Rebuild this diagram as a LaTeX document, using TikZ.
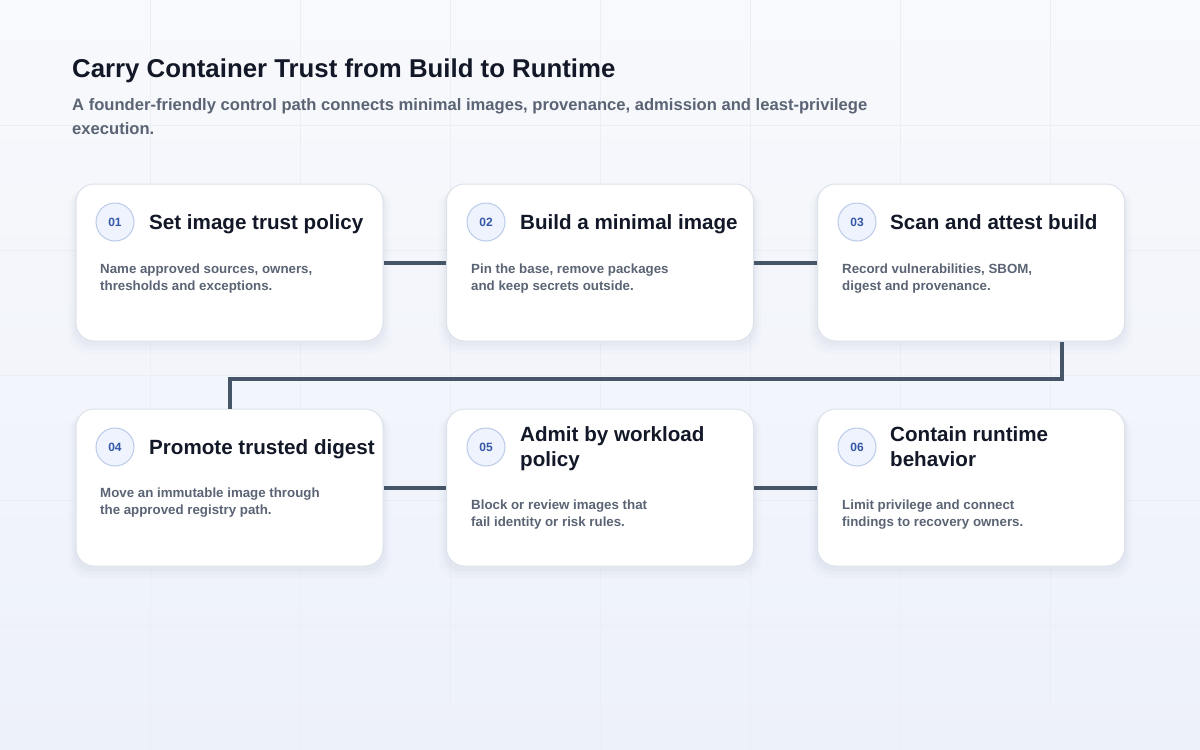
\documentclass[tikz,border=0pt]{standalone}
\usepackage{fontspec}
\setmainfont{Liberation Sans}
\usetikzlibrary{shadows}

\definecolor{bgtop}{HTML}{F8F9FC}
\definecolor{bgbot}{HTML}{EDF1FA}
\definecolor{gridcol}{HTML}{EBEEF5}
\definecolor{inkcol}{HTML}{121827}
\definecolor{mutedcol}{HTML}{5B6474}
\definecolor{linkcol}{HTML}{475569}
\definecolor{edgecol}{HTML}{DCE2EB}
\definecolor{dotfill}{HTML}{EEF3FD}
\definecolor{dotedge}{HTML}{BACBEA}
\definecolor{dotink}{HTML}{3557A8}
\definecolor{shadecol}{HTML}{8C9AB8}

\tikzset{
  card/.style={draw=edgecol, line width=1pt, fill=white, rounded corners=18pt,
    minimum width=307pt, minimum height=157pt,
    drop shadow={shadow xshift=0pt, shadow yshift=-8pt, shadow scale=1.05, fill=shadecol, opacity=0.03},
    drop shadow={shadow xshift=0pt, shadow yshift=-6pt, shadow scale=1.03, fill=shadecol, opacity=0.04},
    drop shadow={shadow xshift=0pt, shadow yshift=-4pt, shadow scale=1.015, fill=shadecol, opacity=0.05}},
  numdot/.style={circle, draw=dotedge, line width=1pt, fill=dotfill, minimum size=38pt, inner sep=0pt,
    text=dotink, font=\fontsize{12}{14}\selectfont\bfseries},
  cardtitle/.style={anchor=base west, inner sep=0pt, align=left, text=inkcol,
    font=\fontsize{20.6}{25}\selectfont\bfseries},
  cardbody/.style={anchor=north west, inner sep=0pt, align=left, text=mutedcol,
    font=\fontsize{13.3}{16.5}\selectfont\bfseries},
  link/.style={draw=linkcol, line width=4pt}
}

\begin{document}
\begin{tikzpicture}[x=1pt,y=1pt,yscale=-1,xscale=1]
    \useasboundingbox (0,0) rectangle (1200,750);
    % background
    \shade[top color=bgtop, bottom color=bgbot] (0,0) rectangle (1200,750);
    \draw[gridcol, line width=0.8pt] (150,0) -- (150,750) (300,0) -- (300,750) (450,0) -- (450,750)
      (600,0) -- (600,750) (750,0) -- (750,750) (900,0) -- (900,750) (1050,0) -- (1050,750);
    \draw[gridcol, line width=0.8pt] (0,125) -- (1200,125) (0,250) -- (1200,250) (0,375) -- (1200,375)
      (0,500) -- (1200,500) (0,625) -- (1200,625);
    % Text Node
    \node[anchor=base west, inner sep=0pt, text=inkcol, font=\fontsize{25.8}{30}\selectfont\bfseries] (head) at (72,77) {Carry Container Trust from Build to Runtime};
    % Text Node (base anchor sits on the last line)
    \node[anchor=base west, inner sep=0pt, align=left, text=mutedcol, font=\fontsize{16.6}{24}\selectfont\bfseries] (sub) at (72,134) {A founder-friendly control path connects minimal images, provenance, admission and least-privilege\\execution.};

    %Cards
    \node[card] (c1) at (229.5,262.5) {};
    \node[card] (c2) at (600,262.5) {};
    \node[card] (c3) at (971,262.5) {};
    \node[card] (c4) at (229.5,487.5) {};
    \node[card] (c5) at (600,487.5) {};
    \node[card] (c6) at (971,487.5) {};

    %Links
    \coordinate (bend) at (1062,379);
    \draw[link] (c1.east) -- (c2.west);
    \draw[link] (c2.east) -- (c3.west);
    \draw[link] (c3.south -| bend) -- (bend) -| (c4.north);
    \draw[link] (c4.east) -- (c5.west);
    \draw[link] (c5.east) -- (c6.west);

    % step 01
    \node[numdot] (n1) at (115,222) {01};
    \node[cardtitle] (t1) at (149,229) {Set image trust policy};
    \node[cardbody] (b1) at (100,264) {Name approved sources, owners,\\thresholds and exceptions.};
    % step 02
    \node[numdot] (n2) at (486,222) {02};
    \node[cardtitle] (t2) at (520,229) {Build a minimal image};
    \node[cardbody] (b2) at (471,264) {Pin the base, remove packages\\and keep secrets outside.};
    % step 03
    \node[numdot] (n3) at (857,222) {03};
    \node[cardtitle] (t3) at (890,229) {Scan and attest build};
    \node[cardbody] (b3) at (842,264) {Record vulnerabilities, SBOM,\\digest and provenance.};
    % step 04
    \node[numdot] (n4) at (115,447) {04};
    \node[cardtitle] (t4) at (149,454) {Promote trusted digest};
    \node[cardbody] (b4) at (100,488) {Move an immutable image through\\the approved registry path.};
    % step 05
    \node[numdot] (n5) at (486,447) {05};
    \node[cardtitle] (t5) at (520,466) {Admit by workload\\policy};
    \node[cardbody] (b5) at (471,500) {Block or review images that\\fail identity or risk rules.};
    % step 06
    \node[numdot] (n6) at (857,447) {06};
    \node[cardtitle] (t6) at (890,466) {Contain runtime\\behavior};
    \node[cardbody] (b6) at (842,500) {Limit privilege and connect\\findings to recovery owners.};
\end{tikzpicture}
\end{document}
